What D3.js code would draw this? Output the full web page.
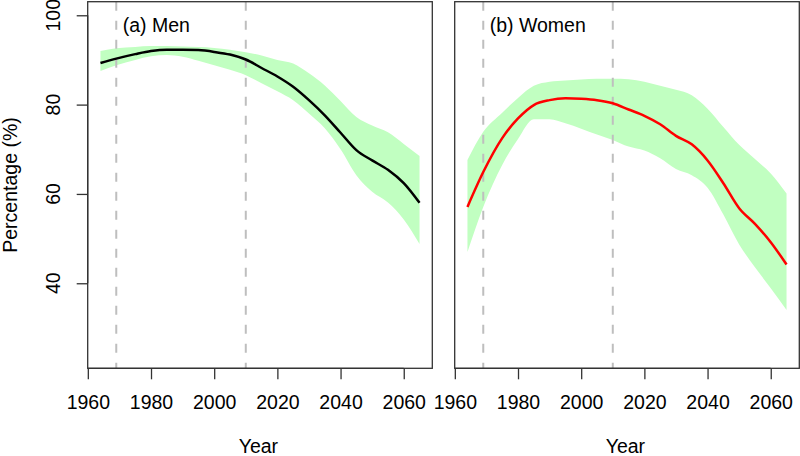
<!DOCTYPE html>
<html><head><meta charset="utf-8">
<script src="https://cdn.jsdelivr.net/npm/d3@7"></script>
<style>body{margin:0;background:#fff}svg{display:block}text{font-family:"Liberation Sans",Arial,sans-serif;fill:#000}</style>
</head><body><svg id="c" width="800" height="456"></svg>
<script>
const years = [1964,1969,1975,1980,1985,1990,1995,2000,2005,2010,2015,2020,2025,2030,2035,2040,2045,2050,2055,2060,2065];
const menMid   = [89.3,90.3,91.3,92.0,92.3,92.3,92.2,91.8,91.2,90.1,88.2,86.3,84.0,81.0,77.6,73.7,69.8,67.5,65.4,62.4,58.0];
const menUpper = [92.0,92.6,92.9,93.1,93.1,93.0,92.9,92.7,92.3,91.7,91.0,90.0,89.2,87.0,84.3,80.8,77.2,75.3,73.8,71.2,68.5];
const menLower = [87.5,88.8,90.0,90.8,91.1,90.7,89.8,88.8,87.8,86.6,84.8,83.0,81.0,78.0,74.7,70.0,64.2,60.5,58.1,54.3,48.8];
const womenMid   = [57.1,64.9,72.5,76.9,79.9,81.0,81.4,81.3,81.0,80.3,78.9,77.5,75.6,73.0,71.1,67.5,62.4,56.8,53.3,49.2,44.2];
const womenUpper = [67.6,73.9,78.2,81.5,84.2,85.1,85.4,85.6,85.8,85.8,85.7,85.1,84.2,83.3,82.1,79.1,75.0,71.0,67.8,64.6,60.1];
const womenLower = [47.0,57.1,66.5,72.3,76.7,76.7,75.8,74.6,73.3,72.1,70.6,69.7,68.0,65.6,64.2,61.4,55.4,48.7,43.6,38.9,34.0];
const refYears = [1969, 2010];
const xTicks = [1960,1980,2000,2020,2040,2060];
const yTicks = [40,60,80,100];
const panels = [
  {title:"(a) Men", mid:menMid, upper:menUpper, lower:menLower, color:"#000000", left:87.7, yaxis:true},
  {title:"(b) Women", mid:womenMid, upper:womenUpper, lower:womenLower, color:"#FF0000", left:454.7, yaxis:false}
];
const FS = 19.5;
const svg = d3.select("#c");
const plotTop = 1.7, plotBottom = 368.3, pw = 344.6;
const y = d3.scaleLinear().domain([20.96,103.04]).range([plotBottom, plotTop]);
panels.forEach(p => {
  const x = d3.scaleLinear().domain([1959.96,2069.04]).range([p.left, p.left+pw]);
  const g = svg.append("g");
  const rows = years.map((yr,i)=>({yr, m:p.mid[i], u:p.upper[i], l:p.lower[i]}));
  g.append("path").datum(rows)
    .attr("d", d3.area().x(d=>x(d.yr)).y0(d=>y(d.l)).y1(d=>y(d.u)).curve(d3.curveMonotoneX))
    .attr("fill","#C1FFC1");
  refYears.forEach(r => g.append("line").attr("x1",x(r)).attr("x2",x(r)).attr("y1",plotTop).attr("y2",plotBottom)
    .attr("stroke","#BEBEBE").attr("stroke-width",2).attr("stroke-dasharray","9,10"));
  g.append("path").datum(rows)
    .attr("d", d3.line().x(d=>x(d.yr)).y(d=>y(d.m)).curve(d3.curveMonotoneX))
    .attr("fill","none").attr("stroke",p.color).attr("stroke-width",2.5);
  g.append("rect").attr("x",p.left).attr("y",plotTop).attr("width",pw).attr("height",plotBottom-plotTop)
    .attr("fill","none").attr("stroke","#333").attr("stroke-width",1.3);
  const xa = g.append("g").attr("transform",`translate(0,${plotBottom})`)
    .call(d3.axisBottom(x).tickValues(xTicks).tickFormat(d3.format("d")).tickSizeOuter(0).tickSizeInner(11).tickPadding(16));
  xa.select(".domain").attr("d",`M${x(1960)},0H${x(2060)}`).attr("stroke","#333").attr("stroke-width",1.3);
  xa.selectAll(".tick line").attr("stroke","#333").attr("stroke-width",1.3);
  xa.selectAll("text").attr("font-size",FS).attr("font-family","Liberation Sans, Arial, sans-serif");
  if (p.yaxis) {
    const ya = g.append("g").attr("transform",`translate(${p.left},0)`)
      .call(d3.axisLeft(y).tickValues(yTicks).tickSizeOuter(0).tickSizeInner(11));
    ya.select(".domain").attr("d",`M0,${y(40)}V${y(100)}`).attr("stroke","#333").attr("stroke-width",1.3);
    ya.selectAll(".tick line").attr("stroke","#333").attr("stroke-width",1.3);
    ya.selectAll("text").remove();
    yTicks.forEach(t => g.append("text").attr("transform",`translate(60,${y(t)}) rotate(-90)`)
      .attr("text-anchor","middle").attr("font-size",FS).text(t));
    g.append("text").attr("transform",`translate(16.5,${(plotTop+plotBottom)/2}) rotate(-90)`)
      .attr("text-anchor","middle").attr("font-size",FS).text("Percentage (%)");
  }
  g.append("text").attr("x",p.left+35).attr("y",31.7).attr("font-size",FS).text(p.title);
  g.append("text").attr("x",x(2014)).attr("y",453).attr("text-anchor","middle").attr("font-size",FS).text("Year");
});
</script></body></html>
